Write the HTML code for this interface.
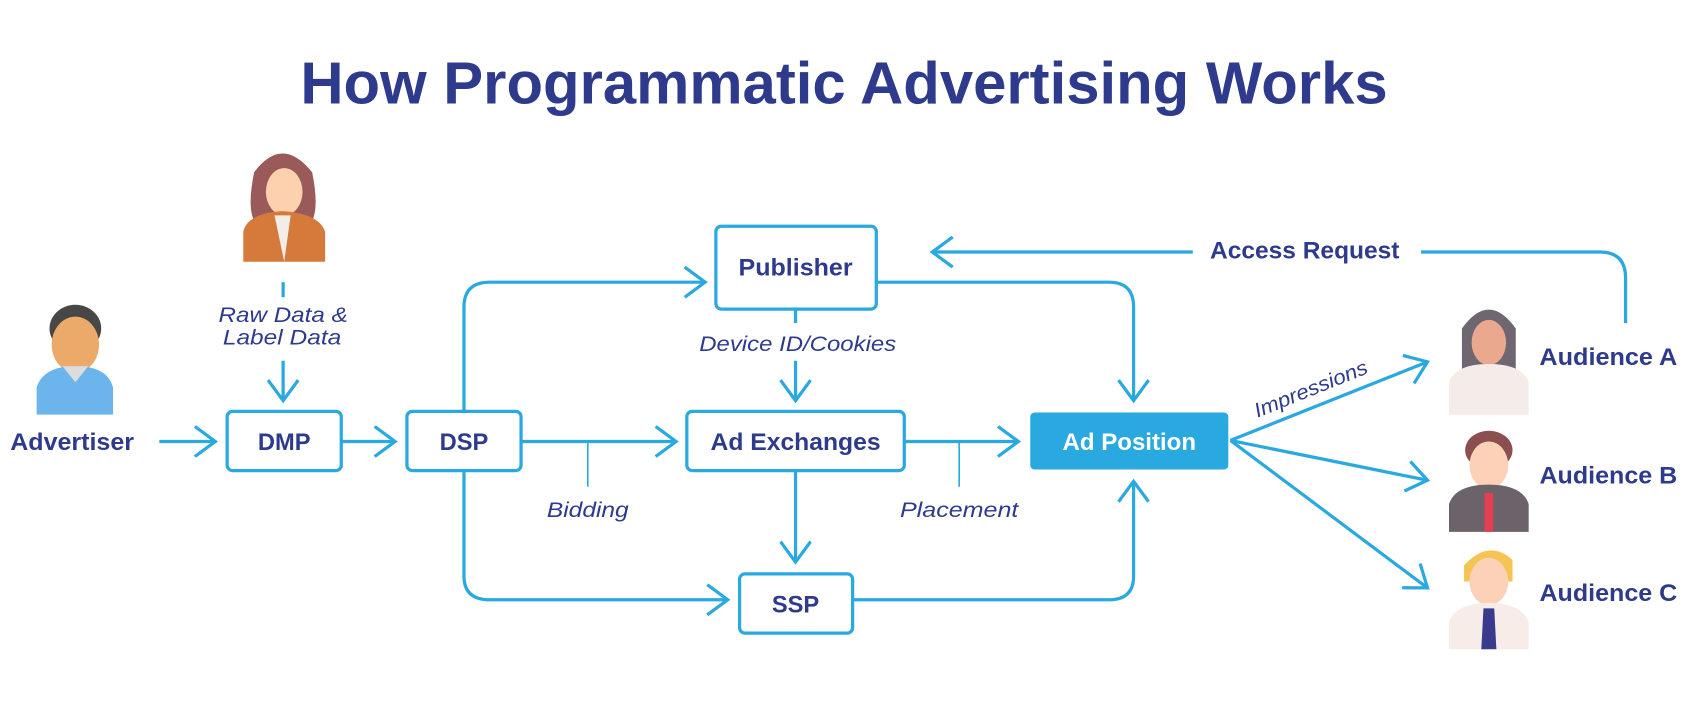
<!DOCTYPE html>
<html><head><meta charset="utf-8"><style>html,body{margin:0;padding:0;background:#fff}svg{display:block}</style></head><body>
<svg width="1688" height="714" viewBox="0 0 1568 663" xmlns="http://www.w3.org/2000/svg" font-family="Liberation Sans, sans-serif">
<defs>
<marker id="b" viewBox="0 0 30 30" refX="27" refY="15" markerWidth="30" markerHeight="30" markerUnits="userSpaceOnUse" orient="auto"><path d="M8 1 L27 15 L8 29" fill="none" stroke="#29a9e0" stroke-width="3"/></marker>
</defs>
<text x="784" y="96" text-anchor="middle" font-size="55" font-weight="bold" fill="#2e3a8c" textLength="1010" lengthAdjust="spacingAndGlyphs">How Programmatic Advertising Works</text>
<g fill="none" stroke="#29a9e0" stroke-width="3">
<rect x="211" y="382" width="106" height="55" rx="5"/>
<rect x="378" y="382" width="106" height="55" rx="5"/>
<rect x="638" y="382" width="202" height="55" rx="5"/>
<rect x="665" y="210" width="149" height="77" rx="5"/>
<rect x="687" y="533" width="105" height="55" rx="5"/>
<line x1="148" y1="410" x2="200" y2="410" marker-end="url(#b)"/>
<line x1="317" y1="410" x2="367" y2="410" marker-end="url(#b)"/>
<line x1="484" y1="410" x2="628" y2="410" marker-end="url(#b)"/>
<line x1="840" y1="410" x2="946" y2="410" marker-end="url(#b)"/>
<line x1="546" y1="410" x2="546" y2="452" stroke-width="1.5"/>
<line x1="891" y1="410" x2="891" y2="452" stroke-width="1.5"/>
<path d="M431 382 V285 Q431 262 455 262 H655" marker-end="url(#b)"/>
<path d="M814 262 H1030 Q1053 262 1053 285 V372" marker-end="url(#b)"/>
<path d="M431 437 V535 Q431 557 455 557 H676" marker-end="url(#b)"/>
<path d="M792 557 H1030 Q1053 557 1053 535 V447" marker-end="url(#b)"/>
<line x1="739" y1="437" x2="739" y2="522" marker-end="url(#b)"/>
<line x1="739" y1="288" x2="739" y2="300"/>
<line x1="739" y1="335" x2="739" y2="372" marker-end="url(#b)"/>
<line x1="263" y1="262" x2="263" y2="276"/>
<line x1="263" y1="335" x2="263" y2="372" marker-end="url(#b)"/>
<path d="M1510 300 V258 Q1510 234 1486 234 H1320"/>
<line x1="1108" y1="234" x2="866" y2="234" marker-end="url(#b)"/>
<line x1="1143" y1="409" x2="1326" y2="336" marker-end="url(#b)"/>
<line x1="1143" y1="409" x2="1326" y2="446" marker-end="url(#b)"/>
<line x1="1143" y1="409" x2="1326" y2="546" marker-end="url(#b)"/>
</g>
<rect x="957" y="383" width="184" height="53" rx="4" fill="#29a9e0"/>
<g font-size="22" font-weight="bold" fill="#2e3a8c" text-anchor="middle">
<text x="67" y="418" textLength="115" lengthAdjust="spacingAndGlyphs">Advertiser</text>
<text x="264" y="418">DMP</text>
<text x="431" y="418">DSP</text>
<text x="739" y="418" textLength="158" lengthAdjust="spacingAndGlyphs">Ad Exchanges</text>
<text x="739" y="256" textLength="106" lengthAdjust="spacingAndGlyphs">Publisher</text>
<text x="739" y="569">SSP</text>
<text x="1049" y="418" fill="#fff" textLength="124" lengthAdjust="spacingAndGlyphs">Ad Position</text>
<text x="1212" y="240" textLength="176" lengthAdjust="spacingAndGlyphs">Access Request</text>
<text x="1430" y="339" text-anchor="start" textLength="128" lengthAdjust="spacingAndGlyphs">Audience A</text>
<text x="1430" y="449" text-anchor="start" textLength="128" lengthAdjust="spacingAndGlyphs">Audience B</text>
<text x="1430" y="558" text-anchor="start" textLength="128" lengthAdjust="spacingAndGlyphs">Audience C</text>
</g>
<g font-size="20" font-style="italic" fill="#2e3a8c" text-anchor="middle">
<text x="263" y="299" textLength="120" lengthAdjust="spacingAndGlyphs">Raw Data &amp;</text>
<text x="262" y="320" textLength="110" lengthAdjust="spacingAndGlyphs">Label Data</text>
<text x="741" y="326" textLength="183" lengthAdjust="spacingAndGlyphs">Device ID/Cookies</text>
<text x="546" y="480" textLength="76" lengthAdjust="spacingAndGlyphs">Bidding</text>
<text x="891" y="480" textLength="110" lengthAdjust="spacingAndGlyphs">Placement</text>
<text x="1220" y="367" font-size="19" transform="rotate(-22 1220 367)" textLength="112" lengthAdjust="spacingAndGlyphs">Impressions</text>
</g>
<g>
<path d="M236 160 Q262 125 290 160 Q298 200 286 210 L240 210 Q228 200 236 160Z" fill="#9a5a5a"/>
<ellipse cx="264" cy="178" rx="17" ry="22" fill="#fdd0ae"/>
<path d="M226 243 V215 Q230 198 262 196 Q296 198 302 215 V243Z" fill="#d67a3c"/>
<path d="M255 200 L264 243 L270 200Z" fill="#f3ede8"/>
</g>
<g>
<ellipse cx="70" cy="305" rx="24" ry="22" fill="#474747"/>
<ellipse cx="70" cy="320" rx="22" ry="26" fill="#ecaa6a"/>
<path d="M34 385 V360 Q40 340 70 340 Q100 340 105 360 V385Z" fill="#6cb5ec"/>
<path d="M58 340 L70 355 L82 340Z" fill="#dcdcdc"/>
</g>
<g>
<path d="M1358 305 Q1383 270 1408 305 V345 H1358Z" fill="#6e6670"/>
<ellipse cx="1383" cy="318" rx="16" ry="21" fill="#eaa88f"/>
<path d="M1346 385 V355 Q1352 338 1383 338 Q1414 338 1420 355 V385Z" fill="#f5ebe8"/>
</g>
<g>
<ellipse cx="1383" cy="418" rx="22" ry="18" fill="#8b4f4f"/>
<ellipse cx="1383" cy="432" rx="18" ry="22" fill="#fdd0b8"/>
<path d="M1346 494 V468 Q1352 450 1383 450 Q1414 450 1420 468 V494Z" fill="#6c6269"/>
<rect x="1379" y="458" width="8" height="36" fill="#e63e53"/>
</g>
<g>
<path d="M1360 525 Q1383 500 1405 520 V540 H1360Z" fill="#f5c452"/>
<ellipse cx="1383" cy="540" rx="18" ry="22" fill="#fdd0b8"/>
<path d="M1346 603 V578 Q1352 560 1383 560 Q1414 560 1420 578 V603Z" fill="#f7ece8"/>
<path d="M1378 565 H1388 L1390 603 H1376Z" fill="#3b3a8c"/>
</g>
</svg>
</body></html>
